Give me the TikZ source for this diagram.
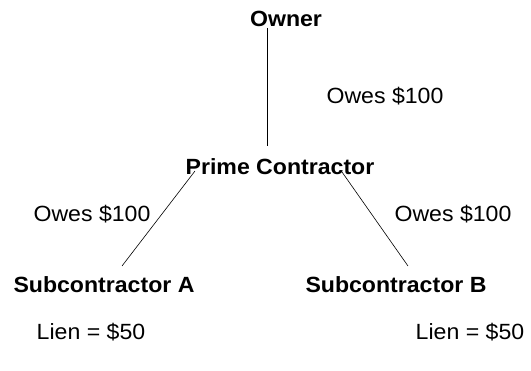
\documentclass[tikz,border=0pt]{standalone}
\usepackage{fontspec}
\setmainfont{Liberation Sans}[FakeStretch=1.05]
\begin{document}
\begin{tikzpicture}[x=1pt,y=-1pt,
  party/.style={font=\fontsize{22}{26}\selectfont\bfseries, inner sep=0pt, anchor=base},
  note/.style={font=\fontsize{22}{26}\selectfont, inner sep=0pt, anchor=base},
  link/.style={draw=black, line width=0.6pt}]
\useasboundingbox (0,0) rectangle (531,371);
\node[party] (owner) at (286,27) {Owner};
\node[party] (prime) at (280,175) {Prime Contractor};
\node[party] (subA) at (104,293) {Subcontractor A};
\node[party] (subB) at (396,293) {Subcontractor B};
\node[note] (o1) at (385,104) {Owes \$100};
\node[note] (o2) at (92,222) {Owes \$100};
\node[note] (o3) at (453,222) {Owes \$100};
\node[note] (l1) at (91,340) {Lien = \$50};
\node[note] (l2) at (470,340) {Lien = \$50};
\coordinate (a1) at (267,28);
\coordinate (a2) at (267,146);
\coordinate (b1) at (195,171);
\coordinate (b2) at (122,266);
\coordinate (c1) at (342,172);
\coordinate (c2) at (408,266);
\draw[link] (a1) -- (a2);
\draw[link] (b1) -- (b2);
\draw[link] (c1) -- (c2);
\end{tikzpicture}
\end{document}
